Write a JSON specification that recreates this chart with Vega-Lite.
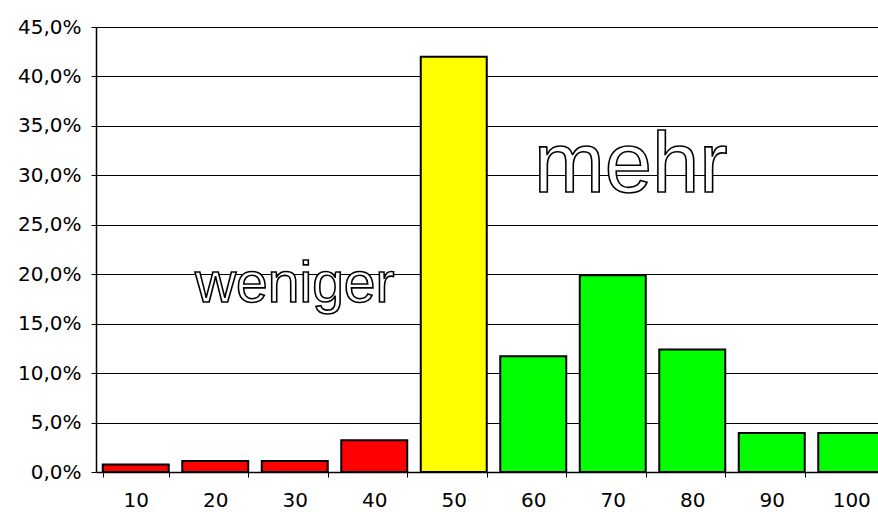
{
  "$schema": "https://vega.github.io/schema/vega-lite/v6.json",
  "autosize": {"type": "none"},
  "padding": {"left": 96, "top": 27, "right": 0, "bottom": 40},
  "width": 795,
  "height": 445,
  "background": "white",
  "config": {
    "locale": {"number": {"decimal": ",", "thousands": ".", "grouping": [3], "currency": ["", " €"]}},
    "view": {"stroke": null},
    "axis": {"labelFont": "DejaVu Sans", "labelFontSize": 20, "labelColor": "#000", "domainColor": "#000", "tickColor": "#000", "gridColor": "#000", "gridOpacity": 1, "domainWidth": 1.5, "tickSize": 5, "title": null}
  },
  "layer": [
    {
      "data": {"values": [
        {"Kategorie": "10", "Anteil": 0.0075, "Gruppe": "weniger"},
        {"Kategorie": "20", "Anteil": 0.011, "Gruppe": "weniger"},
        {"Kategorie": "30", "Anteil": 0.011, "Gruppe": "weniger"},
        {"Kategorie": "40", "Anteil": 0.032, "Gruppe": "weniger"},
        {"Kategorie": "50", "Anteil": 0.42, "Gruppe": "gleich"},
        {"Kategorie": "60", "Anteil": 0.117, "Gruppe": "mehr"},
        {"Kategorie": "70", "Anteil": 0.199, "Gruppe": "mehr"},
        {"Kategorie": "80", "Anteil": 0.124, "Gruppe": "mehr"},
        {"Kategorie": "90", "Anteil": 0.0395, "Gruppe": "mehr"},
        {"Kategorie": "100", "Anteil": 0.0395, "Gruppe": "mehr"}
      ]},
      "mark": {"type": "bar", "stroke": "#000", "strokeWidth": 2},
      "encoding": {
        "x": {"field": "Kategorie", "type": "ordinal",
              "scale": {"domain": ["10", "20", "30", "40", "50", "60", "70", "80", "90", "100"], "paddingInner": 0.17, "paddingOuter": 0.085},
              "axis": {"labelAngle": 0, "tickBand": "extent", "labelPadding": 13, "grid": false}},
        "y": {"field": "Anteil", "type": "quantitative",
              "scale": {"domain": [0, 0.45], "nice": false},
              "axis": {"format": ".1%", "values": [0, 0.05, 0.1, 0.15, 0.2, 0.25, 0.3, 0.35, 0.4, 0.45], "grid": true, "gridWidth": 1, "labelPadding": 10}},
        "color": {"field": "Gruppe", "type": "nominal", "legend": null,
                  "scale": {"domain": ["weniger", "gleich", "mehr"], "range": ["#FF0000", "#FFFF00", "#00FF00"]}}
      }
    },
    {
      "data": {"values": [{"Kategorie": "30", "Anteil": 0.172, "Text": "weniger"}]},
      "mark": {"type": "text", "font": "Arial, 'Liberation Sans', sans-serif", "fontSize": 57, "align": "center", "baseline": "alphabetic", "fill": "white", "stroke": "#000", "strokeWidth": 1.6},
      "encoding": {
        "x": {"field": "Kategorie", "type": "ordinal"},
        "y": {"field": "Anteil", "type": "quantitative"},
        "text": {"field": "Text"}
      }
    },
    {
      "data": {"values": [{"Kategorie": "70", "Anteil": 0.283, "Text": "mehr"}]},
      "mark": {"type": "text", "font": "Arial, 'Liberation Sans', sans-serif", "fontSize": 85, "align": "center", "baseline": "alphabetic", "dx": 18, "fill": "white", "stroke": "#000", "strokeWidth": 1.6},
      "encoding": {
        "x": {"field": "Kategorie", "type": "ordinal"},
        "y": {"field": "Anteil", "type": "quantitative"},
        "text": {"field": "Text"}
      }
    }
  ]
}
